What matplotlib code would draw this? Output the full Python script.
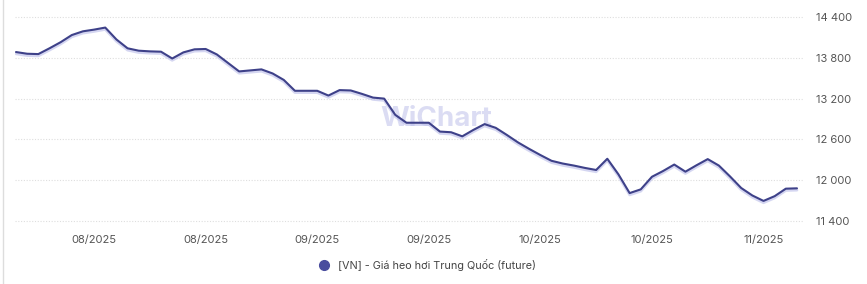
"""
Giá heo hơi Trung Quốc (future) - line chart, WiChart style.
"""
import matplotlib
matplotlib.use("Agg")
import matplotlib.pyplot as plt
import matplotlib.patheffects as pe
from matplotlib.lines import Line2D
import pandas as pd

plt.rcParams["font.family"] = ["Inter", "DejaVu Sans"]

# daily (trading day) prices
prices = [
    13885, 13860, 13855, 13940, 14030, 14135, 14190, 14215, 14245, 14070,
    13940, 13905, 13895, 13890, 13790, 13880, 13925, 13930, 13850, 13725,
    13600, 13615, 13630, 13570, 13475, 13315, 13315, 13315, 13245, 13325,
    13320, 13270, 13215, 13200, 12960, 12845, 12845, 12845, 12715, 12705,
    12645, 12740, 12825, 12770, 12665, 12555, 12460, 12370, 12285, 12245,
    12215, 12180, 12150, 12315, 12085, 11810, 11865, 12050, 12135, 12230,
    12125, 12220, 12310, 12215, 12055, 11885, 11775, 11695, 11765, 11875,
    11880,
]
dates = pd.bdate_range("2025-07-31", periods=len(prices))
series_name = "[VN] - Giá heo hơi Trung Quốc (future)"
y_ticks = [11400, 12000, 12600, 13200, 13800, 14400]
x_tick_idx = [7, 17, 27, 37, 47, 57, 67]

line_color = "#3e4189"
shadow_color = "#b9bce9"
text_color = "#555555"

W, H = 867, 284
fig = plt.figure(figsize=(W / 100, H / 100), dpi=100)
fig.patch.set_facecolor("white")
ax = fig.add_axes([15 / W, (H - 223) / H, (803 - 15) / W, (223 - 15) / H])

x = list(range(len(prices)))
ax.plot(x, prices, color=line_color, lw=1.5, solid_joinstyle="round",
        solid_capstyle="round", zorder=3,
        path_effects=[pe.SimpleLineShadow(offset=(0, -1.3), shadow_color=shadow_color,
                                          alpha=0.6, linewidth=2.0),
                      pe.Normal()])

ax.set_xlim(-0.09, 70.54)
ax.set_ylim(11400 - 30, 14400 + 30)

ax.set_yticks(y_ticks)
ax.set_yticklabels([f"{v:,}".replace(",", " ") for v in y_ticks])
ax.yaxis.tick_right()
ax.tick_params(axis="y", length=0, pad=9, labelsize=8, colors=text_color)

ax.set_xticks(x_tick_idx)
ax.set_xticklabels([dates[i].strftime("%m/%Y") for i in x_tick_idx])
ax.tick_params(axis="x", length=0, pad=9, labelsize=8, colors=text_color)

ax.grid(axis="y", color="#dedede", linestyle=(0, (1, 1.5)), lw=0.8)
ax.grid(axis="x", visible=False)
for s in ax.spines.values():
    s.set_visible(False)

# watermark
ax.text(0.535, 0.5, "WiChart", transform=ax.transAxes, ha="center", va="center",
        fontsize=20, fontweight="bold", color="#cfd1ef", alpha=0.75, zorder=1)

# legend
handle = Line2D([], [], marker="o", linestyle="none", markersize=7,
                markerfacecolor="#4a4d9e", markeredgecolor="#4a4d9e")
fig.legend(handles=[handle], labels=[series_name], loc="center",
           bbox_to_anchor=(425 / W, 1 - 265 / H), frameon=False, fontsize=7.8,
           handletextpad=0.3, labelcolor="#444444")

# card border on the left
fig.add_artist(Line2D([2.5 / W, 2.5 / W], [0, 1], transform=fig.transFigure,
                      color="#dddddd", lw=1))

fig.savefig("out.png", dpi=100)
